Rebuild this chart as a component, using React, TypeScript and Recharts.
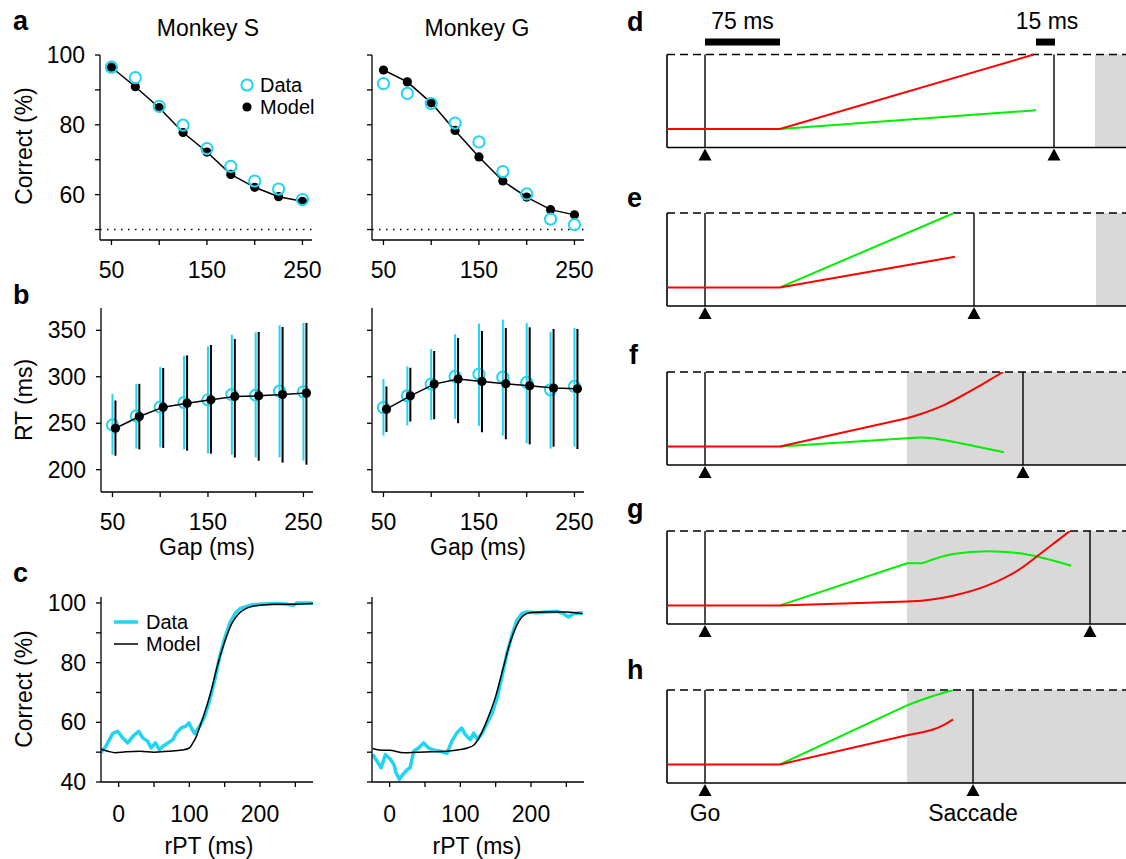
import React from 'react';
import {
  ComposedChart,
  LineChart,
  Line,
  XAxis,
  YAxis,
  ReferenceLine,
  ReferenceArea,
  ReferenceDot,
  ErrorBar,
  Legend,
} from 'recharts';

const FONT = '"Liberation Sans", Arial, Helvetica, sans-serif';
const CYAN = '#1fd5f2';
const RED = '#ff0000';
const GREEN = '#00ee00';
const GRAY = '#d9d9d9';

// ---------- Panel a : % correct vs gap ----------
const gaps = [50, 75, 100, 125, 150, 175, 200, 225, 250];
const aS_data = [96.5, 93.5, 85.3, 79.9, 73.2, 68.1, 63.9, 61.6, 58.6];
const aS_model = [96.5, 90.9, 84.9, 77.8, 72.2, 65.8, 62.1, 59.4, 58.1];
const aG_data = [91.8, 89.0, 86.1, 80.5, 75.1, 66.6, 60.2, 53.0, 51.4];
const aG_model = [95.7, 92.3, 86.3, 78.4, 70.8, 63.9, 59.3, 55.7, 54.2];

// ---------- Panel b : RT vs gap (mean, low, high) ----------
const bS_data = [248.2, 257.9, 267.3, 272.3, 275.2, 280.9, 280.2, 284.5, 283.8];
const bS_dataLo = [216.2, 222.7, 224.1, 221.9, 217.6, 216.2, 213.3, 213.3, 209.7];
const bS_dataHi = [281.7, 292.4, 310.4, 322.7, 332.7, 345.3, 347.8, 355.4, 357.9];
const bS_model = [244.6, 257.2, 267.3, 271.6, 275.2, 278.8, 279.5, 280.9, 282.4];
const bS_modelLo = [215.1, 221.9, 223.4, 220.5, 217.3, 213.0, 209.7, 207.6, 205.4];
const bS_modelHi = [274.5, 292.4, 309.4, 323.0, 334.2, 340.6, 348.2, 353.6, 357.9];

const bG_data = [266.9, 279.5, 292.1, 300.4, 302.9, 299.6, 293.9, 286.0, 289.6];
const bG_dataLo = [236.7, 247.5, 253.6, 254.7, 247.1, 236.7, 228.4, 222.7, 224.8];
const bG_dataHi = [297.5, 311.2, 329.9, 345.7, 357.2, 361.5, 357.9, 348.2, 352.5];
const bG_model = [265.1, 279.5, 292.1, 297.5, 295.0, 292.4, 290.3, 287.8, 287.0];
const bG_modelLo = [240.6, 251.8, 254.3, 250.0, 240.3, 232.7, 227.3, 224.8, 222.3];
const bG_modelHi = [289.6, 309.7, 327.7, 341.7, 349.3, 352.5, 353.2, 351.4, 351.4];

// ---------- Panel c : % correct vs rPT ----------
const cS_dataX = [-25, -18, -8.5, -1.4, 5.7, 12.8, 20, 28.4, 34, 41, 46, 52, 57.8, 62.6, 69.7, 76.8, 81.5, 88.6, 94.8, 99.5, 104, 107.6, 114.7, 121.8, 129, 136, 143, 150, 157, 164.5, 171.6, 185.8, 200, 223.7, 238, 247, 252, 274.4];
const cS_dataY = [49.8, 52, 56.2, 57, 54.8, 53.1, 55.3, 57, 54.8, 53.7, 51.4, 53.1, 50.7, 52, 53.1, 54.2, 56.4, 58.1, 58.7, 59.8, 57.6, 56.2, 58.7, 62, 67.6, 74.2, 82, 88.1, 93.1, 96.4, 98.1, 99.2, 99.6, 99.8, 99.6, 99.2, 100, 100];
const cS_modelX = [-25, -15, -5, 10, 30, 50, 70, 90, 100, 105, 110, 115, 120, 130, 140, 150, 160, 170, 180, 190, 200, 220, 250, 275];
const cS_modelY = [51.1, 50.3, 49.8, 50.1, 50.3, 50, 50.3, 50.7, 51.4, 53.1, 55.3, 58.7, 62, 69.8, 79.2, 87, 93.1, 96.4, 98.1, 98.9, 99.2, 99.6, 99.6, 99.8];

const cG_dataX = [-24, -18, -12, -6, 1, 6, 9, 14, 19, 25, 29, 34, 41, 48, 55, 62, 72, 81, 88, 95, 102, 107, 114, 119, 124, 131, 138, 145, 152, 159, 166, 173, 180, 187, 194, 208, 223, 237, 246, 253, 260, 273];
const cG_dataY = [49.2, 47, 44.8, 49.2, 47.6, 45.9, 43.1, 40.9, 42.6, 44.2, 44.8, 50.3, 51.4, 53.1, 51.4, 50.7, 50.3, 49.6, 53.7, 56.4, 58.1, 55.9, 54.2, 56.4, 54.2, 56.4, 59.8, 63.1, 68.1, 75.3, 83.1, 89.2, 94.2, 96.4, 97, 96.7, 97, 97.2, 96.4, 95.3, 96.4, 96.8];
const cG_modelX = [-24, -15, 0, 20, 40, 60, 80, 100, 110, 120, 130, 140, 150, 160, 170, 180, 190, 200, 220, 250, 273];
const cG_modelY = [51.2, 50.7, 50.6, 49.8, 50, 50.1, 50.3, 50.9, 51.4, 52.6, 56.4, 62, 68.7, 77.6, 86.4, 92.6, 95.9, 96.8, 97, 97, 96.4];

// ---------- Panels d-h : schematic accumulators [time ms, level] ----------
const T_DOMAIN: [number, number] = [-38, 421];
const dGreen = [[75, 0.2], [331, 0.4]];
const dRed = [[-38, 0.2], [75, 0.2], [329, 1.0]];
const eGreen = [[75, 0.2], [249, 1.0]];
const eRed = [[-38, 0.2], [75, 0.2], [250, 0.53]];
const fGreenLin = [[75, 0.2], [202, 0.287]];
const fGreenCurve = [[202, 0.287], [217, 0.297], [248, 0.251], [275, 0.19], [299, 0.136]];
const fRedLin = [[-38, 0.2], [75, 0.2], [202, 0.502]];
const fRedCurve = [[202, 0.502], [215, 0.545], [228, 0.595], [240, 0.65], [252, 0.715], [264, 0.785], [276, 0.86], [287, 0.93], [298, 1.0]];
const gGreenLin = [[75, 0.2], [202, 0.652], [217, 0.652]];
const gGreenCurve = [[217, 0.652], [248, 0.753], [282, 0.781], [315, 0.76], [335, 0.717], [366, 0.627]];
const gRedLin = [[-38, 0.2], [75, 0.2], [202, 0.243], [217, 0.25]];
const gRedCurve = [[217, 0.25], [248, 0.304], [282, 0.412], [315, 0.591], [335, 0.753], [348, 0.86], [365, 1.0]];
const hGreenLin = [[75, 0.2], [202, 0.835]];
const hGreenCurve = [[202, 0.835], [225, 0.925], [248, 1.0]];
const hRedLin = [[-38, 0.2], [75, 0.2], [202, 0.513]];
const hRedCurve = [[202, 0.513], [215, 0.54], [228, 0.575], [238, 0.62], [248, 0.685]];

const saccadeT = { d: 349, e: 269, f: 318, g: 385, h: 268 };
const grayFromT = { d: 390, e: 391, f: 202, g: 202, h: 202 };
const scaleBar75 = [0, 75];
const scaleBar15 = [331, 350];

// ---------- helpers to build rows ----------
const rowsA = (data: number[], model: number[]) =>
  gaps.map((g, i) => ({ gap: g, data: data[i], model: model[i] }));
const rowsB = (mean: number[], lo: number[], hi: number[]) =>
  gaps.map((g, i) => ({ gap: g, y: mean[i], err: [mean[i] - lo[i], hi[i] - mean[i]] }));
const xy = (xs: number[], ys: number[]) => xs.map((x, i) => ({ x, y: ys[i] }));
const tv = (pts: number[][]) => pts.map(([t, v]) => ({ t, v }));

// ---------- layout constants ----------
const PLOT_W = 212;
const YW = 90;
const XH = 60;
const MT = 20;
const MR = 12;
const TICK = { fill: '#000', fontSize: 23, fontFamily: FONT };
const AX = { stroke: '#000', strokeWidth: 1.3 };

const frameA = {
  plotTop: 55, plotH: 185, xDomain: [38, 260], yDomain: [47, 100],
  xTicks: [50, 100, 150, 200, 250], xLabeled: [50, 150, 250],
  yTicks: [50, 60, 70, 80, 90, 100], yLabeled: [60, 80, 100], xTickMargin: 17,
};
const frameB = {
  plotTop: 308, plotH: 184, xDomain: [38, 260], yDomain: [176, 374],
  xTicks: [50, 100, 150, 200, 250], xLabeled: [50, 150, 250],
  yTicks: [200, 250, 300, 350], yLabeled: [200, 250, 300, 350], xTickMargin: 17,
};
const frameC = {
  plotTop: 597, plotH: 185, xDomain: [-25, 275], yDomain: [40, 102],
  xTicks: [0, 50, 100, 150, 200, 250], xLabeled: [0, 100, 200],
  yTicks: [40, 50, 60, 70, 80, 90, 100], yLabeled: [40, 60, 80, 100], xTickMargin: 19,
};

const ringDot = (p: any) =>
  p.cx == null ? <g key={`rn${p.index}`} /> : (
    <circle key={`r${p.index}`} cx={p.cx} cy={p.cy} r={5.6} fill="none" stroke={CYAN} strokeWidth={2} />
  );
const blackDot = (p: any) =>
  p.cx == null ? <g key={`bn${p.index}`} /> : (
    <circle key={`b${p.index}`} cx={p.cx} cy={p.cy} r={4.6} fill="#000" />
  );

function LeftChart({ f, plotLeft, data, xKey, showY, overlay = false, dx = 0, children }: any) {
  const w = YW + PLOT_W + MR;
  const h = MT + f.plotH + XH;
  return (
    <div style={{ position: 'absolute', left: plotLeft - YW + dx, top: f.plotTop - MT, width: w, height: h }}>
      <ComposedChart
        width={w}
        height={h}
        data={data}
        margin={{ top: MT, right: MR, bottom: overlay ? XH : 0, left: overlay ? YW : 0 }}
      >
        <XAxis
          dataKey={xKey}
          type="number"
          domain={f.xDomain}
          allowDataOverflow
          hide={overlay}
          ticks={f.xTicks}
          interval={0}
          tickFormatter={(v: number) => (f.xLabeled.includes(v) ? String(v) : '')}
          height={XH}
          tickSize={5}
          tickMargin={f.xTickMargin}
          tick={TICK}
          axisLine={AX}
          tickLine={AX}
        />
        <YAxis
          type="number"
          domain={f.yDomain}
          allowDataOverflow
          hide={overlay}
          ticks={f.yTicks}
          interval={0}
          tickFormatter={(v: number) => (showY && f.yLabeled.includes(v) ? String(v) : '')}
          width={YW}
          tickSize={5}
          tickMargin={10}
          tick={TICK}
          axisLine={AX}
          tickLine={AX}
        />
        {children}
      </ComposedChart>
    </div>
  );
}

const legendA = [
  { label: 'Data', kind: 'ring' },
  { label: 'Model', kind: 'dot' },
];
const legendC = [
  { label: 'Data', kind: 'thick' },
  { label: 'Model', kind: 'thin' },
];

function LegendBox({ items }: any) {
  return (
    <div style={{ fontFamily: FONT, fontSize: 20, color: '#000' }}>
      {items.map((it: any) => {
        const wide = it.kind === 'thick' || it.kind === 'thin';
        const sw = wide ? 24 : 14;
        return (
          <div key={it.label} style={{ display: 'flex', alignItems: 'center', height: 22, lineHeight: '22px' }}>
            <svg width={sw} height={14} style={{ display: 'block' }}>
              {it.kind === 'ring' && <circle cx={7} cy={7} r={5.6} fill="none" stroke={CYAN} strokeWidth={2} />}
              {it.kind === 'dot' && <circle cx={7} cy={7} r={4.6} fill="#000" />}
              {it.kind === 'thick' && <line x1={0} x2={24} y1={7} y2={7} stroke={CYAN} strokeWidth={3.5} />}
              {it.kind === 'thin' && <line x1={0} x2={24} y1={7} y2={7} stroke="#000" strokeWidth={1.5} />}
            </svg>
            <span style={{ marginLeft: wide ? 8 : 6.5 }}>{it.label}</span>
          </div>
        );
      })}
    </div>
  );
}

// ---------- schematic panels ----------
const UNIT = 93;
const RW = 459;
const RML = 5;
const RMT = 5;
const RMB = 50;

const Tri = ({ cx, cy, label }: any) => (
  <g>
    <polygon points={`${cx},${cy + 1} ${cx - 6.5},${cy + 13} ${cx + 6.5},${cy + 13}`} fill="#000" />
    {label ? (
      <text x={cx} y={cy + 30} dy="0.35em" textAnchor="middle" fontSize={23} fontFamily={FONT} fill="#000">
        {label}
      </text>
    ) : null}
  </g>
);
const TextMark = ({ cx, cy, label }: any) => (
  <text x={cx} y={cy} dy="0.35em" textAnchor="middle" fontSize={23} fontFamily={FONT} fill="#000">
    {label}
  </text>
);

function Schematic({ boxTop, yMax = 1, lines, grayFrom, saccade, labels = false, extras = null }: any) {
  const plotH = UNIT * yMax;
  const top = boxTop - UNIT * (yMax - 1) - RMT;
  const w = RML + RW;
  const h = RMT + plotH + RMB;
  return (
    <div style={{ position: 'absolute', left: 667 - RML, top, width: w, height: h }}>
      <LineChart width={w} height={h} margin={{ top: RMT, right: 0, bottom: RMB, left: RML }}>
        <XAxis dataKey="t" type="number" domain={T_DOMAIN} allowDataOverflow hide />
        <YAxis type="number" domain={[0, yMax]} allowDataOverflow hide />
        <ReferenceArea x1={grayFrom} x2={T_DOMAIN[1]} y1={0} y2={1} fill={GRAY} fillOpacity={1} stroke="none" />
        <ReferenceLine y={1} stroke="#000" strokeWidth={1.3} strokeDasharray="8 5" />
        <ReferenceLine y={0} stroke="#000" strokeWidth={1.6} />
        <ReferenceLine segment={[{ x: T_DOMAIN[0], y: 0 }, { x: T_DOMAIN[0], y: 1 }]} stroke="#000" strokeWidth={1.6} />
        <ReferenceLine segment={[{ x: 0, y: 0 }, { x: 0, y: 1 }]} stroke="#000" strokeWidth={1.4} />
        <ReferenceLine segment={[{ x: saccade, y: 0 }, { x: saccade, y: 1 }]} stroke="#000" strokeWidth={1.4} />
        {lines.map((l: any, i: number) => (
          <Line
            key={i}
            data={tv(l.pts)}
            dataKey="v"
            type={l.curve ? 'monotone' : 'linear'}
            stroke={l.color}
            strokeWidth={2}
            dot={false}
            activeDot={false}
            isAnimationActive={false}
          />
        ))}
        <ReferenceDot x={0} y={0} r={0} shape={(p: any) => <Tri {...p} label={labels ? 'Go' : null} />} />
        <ReferenceDot x={saccade} y={0} r={0} shape={(p: any) => <Tri {...p} label={labels ? 'Saccade' : null} />} />
        {extras}
      </LineChart>
    </div>
  );
}

// ---------- text helpers ----------
const CTxt = ({ x, y, size = 23, rotate = false, children }: any) => (
  <div
    style={{
      position: 'absolute', left: x, top: y,
      transform: `translate(-50%, -50%)${rotate ? ' rotate(-90deg)' : ''}`,
      fontSize: size, fontFamily: FONT, lineHeight: 1, whiteSpace: 'nowrap', color: '#000',
    }}
  >
    {children}
  </div>
);
const Letter = ({ x, base, children }: any) => (
  <div
    style={{
      position: 'absolute', left: x, top: base - 0.8465 * 27,
      fontSize: 27, fontWeight: 700, fontFamily: FONT, lineHeight: 1, color: '#000',
    }}
  >
    {children}
  </div>
);

const S_A = 100;
const S_BC = 101;
const G_X = 372;

export default function App() {
  return (
    <div style={{ position: 'absolute', left: 0, top: 0, width: 1126, height: 859, overflow: 'hidden', background: '#fff', fontFamily: FONT }}>
      {/* panel a, Monkey S */}
      <LeftChart f={frameA} plotLeft={S_A} data={rowsA(aS_data, aS_model)} xKey="gap" showY>
        <ReferenceLine y={50} stroke="#000" strokeWidth={1.5} strokeDasharray="1.5 5.5" />
        <Line dataKey="model" stroke="#000" strokeWidth={1.5} dot={blackDot} activeDot={false} isAnimationActive={false} />
        <Line dataKey="data" stroke="none" dot={ringDot} activeDot={false} isAnimationActive={false} />
        <Legend
          layout="vertical"
          align="center"
          verticalAlign="middle"
          wrapperStyle={{ left: 229.5, top: 39, width: 100 }}
          content={() => <LegendBox items={legendA} />}
        />
      </LeftChart>
      {/* panel a, Monkey G */}
      <LeftChart f={frameA} plotLeft={G_X} data={rowsA(aG_data, aG_model)} xKey="gap" showY={false}>
        <ReferenceLine y={50} stroke="#000" strokeWidth={1.5} strokeDasharray="1.5 5.5" />
        <Line dataKey="model" stroke="#000" strokeWidth={1.5} dot={blackDot} activeDot={false} isAnimationActive={false} />
        <Line dataKey="data" stroke="none" dot={ringDot} activeDot={false} isAnimationActive={false} />
      </LeftChart>

      {/* panel b, Monkey S */}
      <LeftChart f={frameB} plotLeft={S_BC} data={rowsB(bS_data, bS_dataLo, bS_dataHi)} xKey="gap" showY>
        <Line dataKey="y" stroke="none" dot={ringDot} activeDot={false} isAnimationActive={false}>
          <ErrorBar dataKey="err" direction="y" width={0} stroke={CYAN} strokeWidth={2} isAnimationActive={false} />
        </Line>
      </LeftChart>
      <LeftChart f={frameB} plotLeft={S_BC} dx={3} overlay data={rowsB(bS_model, bS_modelLo, bS_modelHi)} xKey="gap" showY>
        <Line dataKey="y" stroke="#000" strokeWidth={1.5} dot={blackDot} activeDot={false} isAnimationActive={false}>
          <ErrorBar dataKey="err" direction="y" width={0} stroke="#000" strokeWidth={2} isAnimationActive={false} />
        </Line>
      </LeftChart>
      {/* panel b, Monkey G */}
      <LeftChart f={frameB} plotLeft={G_X} data={rowsB(bG_data, bG_dataLo, bG_dataHi)} xKey="gap" showY={false}>
        <Line dataKey="y" stroke="none" dot={ringDot} activeDot={false} isAnimationActive={false}>
          <ErrorBar dataKey="err" direction="y" width={0} stroke={CYAN} strokeWidth={2} isAnimationActive={false} />
        </Line>
      </LeftChart>
      <LeftChart f={frameB} plotLeft={G_X} dx={3} overlay data={rowsB(bG_model, bG_modelLo, bG_modelHi)} xKey="gap" showY={false}>
        <Line dataKey="y" stroke="#000" strokeWidth={1.5} dot={blackDot} activeDot={false} isAnimationActive={false}>
          <ErrorBar dataKey="err" direction="y" width={0} stroke="#000" strokeWidth={2} isAnimationActive={false} />
        </Line>
      </LeftChart>

      {/* panel c, Monkey S */}
      <LeftChart f={frameC} plotLeft={S_BC} xKey="x" showY>
        <Line data={xy(cS_dataX, cS_dataY)} dataKey="y" stroke={CYAN} strokeWidth={3.5} strokeLinejoin="round" dot={false} activeDot={false} isAnimationActive={false} />
        <Line data={xy(cS_modelX, cS_modelY)} dataKey="y" type="monotone" stroke="#000" strokeWidth={1.5} dot={false} activeDot={false} isAnimationActive={false} />
        <Legend
          layout="vertical"
          align="center"
          verticalAlign="middle"
          wrapperStyle={{ left: 103, top: 33.5, width: 110 }}
          content={() => <LegendBox items={legendC} />}
        />
      </LeftChart>
      {/* panel c, Monkey G */}
      <LeftChart f={frameC} plotLeft={G_X} xKey="x" showY={false}>
        <Line data={xy(cG_dataX, cG_dataY)} dataKey="y" stroke={CYAN} strokeWidth={3.5} strokeLinejoin="round" dot={false} activeDot={false} isAnimationActive={false} />
        <Line data={xy(cG_modelX, cG_modelY)} dataKey="y" type="monotone" stroke="#000" strokeWidth={1.5} dot={false} activeDot={false} isAnimationActive={false} />
      </LeftChart>

      {/* schematic panels d-h */}
      <Schematic
        boxTop={54}
        yMax={1.5}
        grayFrom={grayFromT.d}
        saccade={saccadeT.d}
        lines={[{ pts: dGreen, color: GREEN }, { pts: dRed, color: RED }]}
        extras={[
          <ReferenceLine key="sb75" segment={[{ x: scaleBar75[0], y: 1.134 }, { x: scaleBar75[1], y: 1.134 }]} stroke="#000" strokeWidth={7} />,
          <ReferenceLine key="sb15" segment={[{ x: scaleBar15[0], y: 1.134 }, { x: scaleBar15[1], y: 1.134 }]} stroke="#000" strokeWidth={7} />,
          <ReferenceDot key="t75" x={37.5} y={1.358} r={0} shape={(p: any) => <TextMark {...p} label="75 ms" />} />,
          <ReferenceDot key="t15" x={342} y={1.358} r={0} shape={(p: any) => <TextMark {...p} label="15 ms" />} />,
        ]}
      />
      <Schematic
        boxTop={213}
        grayFrom={grayFromT.e}
        saccade={saccadeT.e}
        lines={[{ pts: eGreen, color: GREEN }, { pts: eRed, color: RED }]}
      />
      <Schematic
        boxTop={372}
        grayFrom={grayFromT.f}
        saccade={saccadeT.f}
        lines={[
          { pts: fGreenLin, color: GREEN },
          { pts: fGreenCurve, color: GREEN, curve: true },
          { pts: fRedLin, color: RED },
          { pts: fRedCurve, color: RED, curve: true },
        ]}
      />
      <Schematic
        boxTop={531}
        grayFrom={grayFromT.g}
        saccade={saccadeT.g}
        lines={[
          { pts: gGreenLin, color: GREEN },
          { pts: gGreenCurve, color: GREEN, curve: true },
          { pts: gRedLin, color: RED },
          { pts: gRedCurve, color: RED, curve: true },
        ]}
      />
      <Schematic
        boxTop={689.5}
        grayFrom={grayFromT.h}
        saccade={saccadeT.h}
        labels
        lines={[
          { pts: hGreenLin, color: GREEN },
          { pts: hGreenCurve, color: GREEN, curve: true },
          { pts: hRedLin, color: RED },
          { pts: hRedCurve, color: RED, curve: true },
        ]}
      />

      {/* titles and axis labels */}
      <CTxt x={208} y={28} size={23}>Monkey S</CTxt>
      <CTxt x={477} y={28} size={23}>Monkey G</CTxt>
      <CTxt x={24} y={146} rotate>Correct (%)</CTxt>
      <CTxt x={24} y={400} rotate>RT (ms)</CTxt>
      <CTxt x={24} y={689} rotate>Correct (%)</CTxt>
      <CTxt x={207} y={547}>Gap (ms)</CTxt>
      <CTxt x={478} y={547}>Gap (ms)</CTxt>
      <CTxt x={209} y={846}>rPT (ms)</CTxt>
      <CTxt x={477} y={846}>rPT (ms)</CTxt>

      {/* panel letters */}
      <Letter x={13} base={31}>a</Letter>
      <Letter x={13} base={305}>b</Letter>
      <Letter x={13} base={583}>c</Letter>
      <Letter x={627} base={32}>d</Letter>
      <Letter x={627} base={208}>e</Letter>
      <Letter x={629} base={365}>f</Letter>
      <Letter x={627} base={519}>g</Letter>
      <Letter x={627} base={680}>h</Letter>
    </div>
  );
}
